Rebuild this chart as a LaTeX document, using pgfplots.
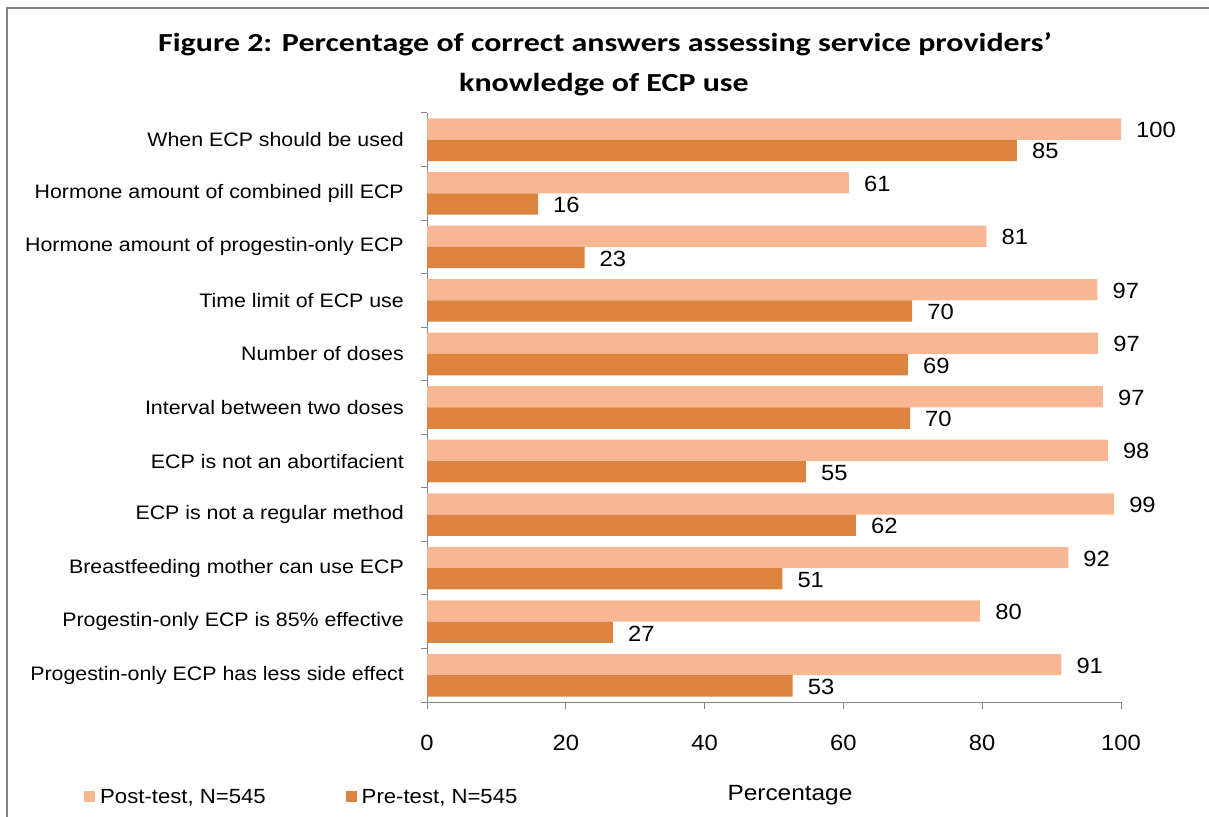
\documentclass[border=0pt]{standalone}
\usepackage{pgfplots}
\pgfplotsset{compat=1.18}
\usepackage{fontspec}
\setmainfont{Liberation Sans}
\newfontfamily\titlefont{Carlito}
\definecolor{postc}{HTML}{F9B692}
\definecolor{prec}{HTML}{DC843F}
\definecolor{axgray}{HTML}{868686}
\definecolor{framegray}{HTML}{808080}
\newcommand\sx[1]{\scalebox{1.08}[1]{#1}}
\newcommand\sxc[1]{\scalebox{1.095}[1]{#1}}
\begin{document}
\begin{tikzpicture}[x=1pt,y=1pt]
\useasboundingbox (0,0) rectangle (1209,816);
\draw[framegray, line width=2pt] (7,-5) -- (7,808) -- (1215,808);
\node[anchor=base, font=\titlefont\bfseries\fontsize{26}{30}\selectfont] at (605,764) {\scalebox{1.23}[1]{Figure 2: Percentage of correct answers assessing service providers’}};
\node[anchor=base, font=\titlefont\bfseries\fontsize{26}{30}\selectfont] at (604,724) {\scalebox{1.23}[1]{knowledge of ECP use}};
\begin{axis}[
  at={(427pt,114pt)}, anchor=south west,
  scale only axis, width=694pt, height=589pt,
  xbar, bar width=21.3pt,
  xmin=0, xmax=100, ymin=-0.5, ymax=10.5,
  axis x line*=bottom, axis y line*=left,
  axis line style={draw=axgray, line width=1pt},
  tick align=outside,
  xtick={0,20,...,100},
  xticklabel={\sx{\pgfmathprintnumber[assume math mode=true]{\tick}}},
  x tick style={draw=axgray, line width=1pt},
  major tick length=7pt,
  ytick={0,...,10},
  y tick style={draw=none},
  yticklabels={\sxc{Progestin-only ECP has less side effect},\sxc{Progestin-only ECP is 85\% effective},\sxc{Breastfeeding mother can use ECP},\sxc{ECP is not a regular method},\sxc{ECP is not an abortifacient},\sxc{Interval between two doses},\sxc{Number of doses},\sxc{Time limit of ECP use},\sxc{Hormone amount of progestin-only ECP},\sxc{Hormone amount of combined pill ECP},\sxc{When ECP should be used}},
  extra y ticks={-0.5,0.5,...,10.5},
  extra y tick labels={},
  extra y tick style={y tick style={draw=axgray, line width=1pt}, major tick length=6pt},
  yticklabel style={font=\fontsize{19.5}{24}\selectfont, anchor=east, inner sep=0pt, xshift=-16pt},
  xticklabel style={font=\fontsize{22}{26}\selectfont, anchor=north, inner sep=0pt, yshift=-26pt},
  /pgf/number format/assume math mode=true,
  nodes near coords={\sx{\pgfmathprintnumber[fixed,precision=0,assume math mode=true]{\pgfplotspointmeta}}},
  every node near coord/.append style={font=\fontsize{22}{26}\selectfont, anchor=west, inner sep=0pt, xshift=15pt, yshift=-1pt, text=black},
  legend columns=2,
  legend style={draw=none, fill=none, at={(axis description cs:-0.4942,-0.161)}, anchor=west, inner sep=0pt,
    font=\fontsize{20.5}{25}\selectfont, /tikz/every even column/.append style={column sep=78pt}},
  legend image code/.code={\fill[#1] (0pt,-5.5pt) rectangle (11pt,5.5pt);},
  clip=false,
]
\addplot[fill=postc, draw=none, bar shift=10.65pt] coordinates {
(91.4,0) (79.7,1) (92.4,2) (99.0,3) (98.1,4) (97.4,5) (96.7,6) (96.6,7) (80.6,8) (60.8,9) (100,10)};
\addlegendentry{\hspace{3pt}\sx{Post-test, N=545}}
\addplot[fill=prec, draw=none, bar shift=-10.65pt] coordinates {
(52.7,0) (26.8,1) (51.2,2) (61.8,3) (54.6,4) (69.6,5) (69.3,6) (69.9,7) (22.7,8) (16.0,9) (85,10)};
\addlegendentry{\hspace{3pt}\sx{Pre-test, N=545}}
\node[font=\fontsize{22}{26}\selectfont, anchor=center] at (axis description cs:0.523,-0.158) {\scalebox{1.11}[1]{Percentage}};
\end{axis}
\end{tikzpicture}
\end{document}
